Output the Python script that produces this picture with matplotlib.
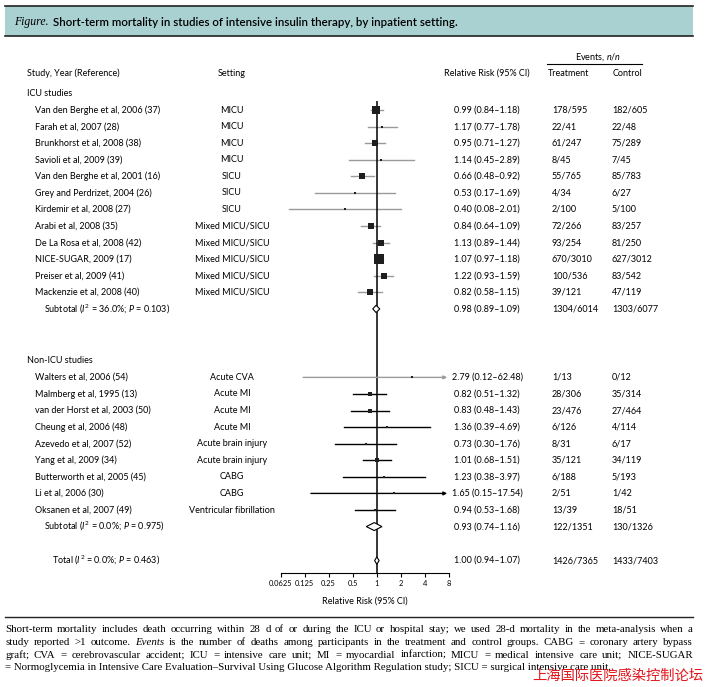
import numpy as np
import matplotlib
matplotlib.use('Agg')
import matplotlib.pyplot as plt
from matplotlib.transforms import blended_transform_factory
from matplotlib.patches import Rectangle
from matplotlib.lines import Line2D

plt.rcParams['font.family'] = ['Lato', 'DejaVu Sans']
plt.rcParams['mathtext.fontset'] = 'custom'
plt.rcParams['mathtext.rm'] = 'Lato'
plt.rcParams['mathtext.it'] = 'Lato:italic'

# =========================
# Datos
# =========================
icu_studies = ['Van den Berghe et al, 2006 (37)', 'Farah et al, 2007 (28)',
               'Brunkhorst et al, 2008 (38)', 'Savioli et al, 2009 (39)',
               'Van den Berghe et al, 2001 (16)', 'Grey and Perdrizet, 2004 (26)',
               'Kirdemir et al, 2008 (27)', 'Arabi et al, 2008 (35)',
               'De La Rosa et al, 2008 (42)', 'NICE-SUGAR, 2009 (17)',
               'Preiser et al, 2009 (41)', 'Mackenzie et al, 2008 (40)']
icu_settings = ['MICU', 'MICU', 'MICU', 'MICU', 'SICU', 'SICU', 'SICU',
                'Mixed MICU/SICU', 'Mixed MICU/SICU', 'Mixed MICU/SICU',
                'Mixed MICU/SICU', 'Mixed MICU/SICU']
icu_rr = [0.99, 1.17, 0.95, 1.14, 0.66, 0.53, 0.40, 0.84, 1.13, 1.07, 1.22, 0.82]
icu_lo = [0.84, 0.77, 0.71, 0.45, 0.48, 0.17, 0.08, 0.64, 0.89, 0.97, 0.93, 0.58]
icu_hi = [1.18, 1.78, 1.27, 2.89, 0.92, 1.69, 2.01, 1.09, 1.44, 1.18, 1.59, 1.15]
icu_treat = ['178/595', '22/41', '61/247', '8/45', '55/765', '4/34', '2/100',
             '72/266', '93/254', '670/3010', '100/536', '39/121']
icu_ctrl = ['182/605', '22/48', '75/289', '7/45', '85/783', '6/27', '5/100',
            '83/257', '81/250', '627/3012', '83/542', '47/119']
icu_weight = [15.5, 1.7, 6.9, 0.4, 9.4, 0.8, 0.2, 8.0, 6.9, 23.1, 9.4, 5.7]
icu_sub = [0.98, 0.89, 1.09]
icu_sub_events = ['1304/6014', '1303/6077']
icu_sub_stats = ['36.0%', '0.103']

non_studies = ['Walters et al, 2006 (54)', 'Malmberg et al, 1995 (13)',
               'van der Horst et al, 2003 (50)', 'Cheung et al, 2006 (48)',
               'Azevedo et al, 2007 (52)', 'Yang et al, 2009 (34)',
               'Butterworth et al, 2005 (45)', 'Li et al, 2006 (30)',
               'Oksanen et al, 2007 (49)']
non_settings = ['Acute CVA', 'Acute MI', 'Acute MI', 'Acute MI',
                'Acute brain injury', 'Acute brain injury', 'CABG', 'CABG',
                'Ventricular fibrillation']
non_rr = [2.79, 0.82, 0.83, 1.36, 0.73, 1.01, 1.23, 1.65, 0.94]
non_lo = [0.12, 0.51, 0.48, 0.39, 0.30, 0.68, 0.38, 0.15, 0.53]
non_hi = [62.48, 1.32, 1.43, 4.69, 1.76, 1.51, 3.97, 17.54, 1.68]
non_treat = ['1/13', '28/306', '23/476', '6/126', '8/31', '35/121', '6/188', '2/51', '13/39']
non_ctrl = ['0/12', '35/314', '27/464', '4/114', '6/17', '34/119', '5/193', '1/42', '18/51']
non_weight = [0.2, 2.3, 2.3, 0.4, 0.8, 3.9, 0.4, 0.2, 1.7]
non_sub = [0.93, 0.74, 1.16]
non_sub_events = ['122/1351', '130/1326']
non_sub_stats = ['0.0%', '0.975']

total = [1.00, 0.94, 1.07]
total_events = ['1426/7365', '1433/7403']
total_stats = ['0.0%', '0.463']

ticks = [0.0625, 0.125, 0.25, 0.5, 1, 2, 4, 8]
tick_labels = ['0.0625', '0.125', '0.25', '0.5', '1', '2', '4', '8']

title = 'Short-term mortality in studies of intensive insulin therapy, by inpatient setting.'
footnote = [
    'Short-term mortality includes death occurring within 28 d of or during the ICU or '
    'hospital stay; we used 28-d mortality in the meta-analysis when a',
    'study reported >1 outcome. Events is the number of deaths among participants in the '
    'treatment and control groups. CABG = coronary artery bypass',
    'graft; CVA = cerebrovascular accident; ICU = intensive care unit; MI = myocardial '
    'infarction; MICU = medical intensive care unit; NICE-SUGAR',
    '= Normoglycemia in Intensive Care Evaluation–Survival Using Glucose Algorithm '
    'Regulation study; SICU = surgical intensive care unit.',
]

# =========================
# Figura
# =========================
W, H = 706, 687
fig = plt.figure(figsize=(W / 100, H / 100), dpi=100)
renderer = fig.canvas.get_renderer()

def fx(px):
    return px / W

def fy(py):
    return 1 - py / H

FS = 6.5
FSF = 7.8
GRAY = '#9a9a9a'

ax = fig.add_axes([fx(280.5), fy(573), (449 - 280.5) / W, (573 - 101) / H])
ax.set_xscale('log', base=2)
ax.set_xlim(ticks[0], ticks[-1])
ax.set_ylim(28.93, 0.457)
for s in ['top', 'left', 'right']:
    ax.spines[s].set_visible(False)
ax.spines['bottom'].set_linewidth(0.8)
ax.set_yticks([])
ax.set_xticks(ticks)
ax.set_xticklabels(tick_labels)
ax.minorticks_off()
ax.tick_params(axis='x', length=3, width=0.8, labelsize=5.4, pad=2)
ax.set_xlabel('Relative Risk (95% CI)', fontsize=FS, labelpad=7)
ax.axvline(1, color='black', lw=1.1, zorder=2)

# posiciones de filas
icu_y = np.arange(1, len(icu_studies) + 1)
icu_sub_y = icu_y[-1] + 1
non_head_y = icu_sub_y + 3.13
non_y = non_head_y + np.arange(1, len(non_studies) + 1)
non_sub_y = non_y[-1] + 1
total_y = non_sub_y + 2.05

trans = blended_transform_factory(fig.transFigure, ax.transData)
xmax = ticks[-1]


def draw_study(y, name, setting, rr, lo, hi, tr, ct, w, color):
    if hi > xmax:
        ax.annotate('', xy=(xmax * 0.95, y), xytext=(lo, y),
                    arrowprops=dict(arrowstyle='-|>', color=color, lw=1,
                                    mutation_scale=5, shrinkA=0, shrinkB=0))
    else:
        ax.plot([lo, hi], [y, y], color=color, lw=1, zorder=1)
    ax.scatter([rr], [y], s=w * 2.7, marker='s', color='#1e1e1e', zorder=3, linewidths=0)
    ax.text(fx(35), y, name, transform=trans, fontsize=FS, va='center')
    ax.text(fx(232), y, setting, transform=trans, fontsize=FS, va='center', ha='center')
    ax.text(fx(487), y, f'{rr:.2f} ({lo:.2f}–{hi:.2f})', transform=trans,
            fontsize=FS, va='center', ha='center')
    ax.text(fx(552), y, tr, transform=trans, fontsize=FS, va='center')
    ax.text(fx(612), y, ct, transform=trans, fontsize=FS, va='center')


def draw_pooled(y, label, x0, vals, events, stats, h=0.24):
    est, lo, hi = vals
    ax.fill([lo, est, hi, est], [y, y - h, y, y + h], facecolor='white',
            edgecolor='black', lw=0.8, zorder=3)
    ax.text(fx(x0), y, f'{label} ($I^2$ = {stats[0]}; $P$ = {stats[1]})',
            transform=trans, fontsize=FS, va='center')
    ax.text(fx(487), y, f'{est:.2f} ({lo:.2f}–{hi:.2f})', transform=trans,
            fontsize=FS, va='center', ha='center')
    ax.text(fx(552), y, events[0], transform=trans, fontsize=FS, va='center')
    ax.text(fx(612), y, events[1], transform=trans, fontsize=FS, va='center')


ax.text(fx(27), 0, 'ICU studies', transform=trans, fontsize=FS, va='center')
for i in range(len(icu_studies)):
    draw_study(icu_y[i], icu_studies[i], icu_settings[i], icu_rr[i], icu_lo[i],
               icu_hi[i], icu_treat[i], icu_ctrl[i], icu_weight[i], GRAY)
draw_pooled(icu_sub_y, 'Subtotal', 44, icu_sub, icu_sub_events, icu_sub_stats, h=0.22)

ax.text(fx(27), non_head_y, 'Non-ICU studies', transform=trans, fontsize=FS, va='center')
for i in range(len(non_studies)):
    c = GRAY if i == 0 else 'black'
    draw_study(non_y[i], non_studies[i], non_settings[i], non_rr[i], non_lo[i],
               non_hi[i], non_treat[i], non_ctrl[i], non_weight[i], c)
draw_pooled(non_sub_y, 'Subtotal', 44, non_sub, non_sub_events, non_sub_stats)
draw_pooled(total_y, 'Total', 52, total, total_events, total_stats, h=0.22)

# encabezados
fig.text(fx(27), fy(73), 'Study, Year (Reference)', fontsize=FS, va='center')
fig.text(fx(232), fy(73), 'Setting', fontsize=FS, va='center', ha='center')
fig.text(fx(487), fy(73), 'Relative Risk (95% CI)', fontsize=FS, va='center', ha='center')
fig.text(fx(548), fy(73), 'Treatment', fontsize=FS, va='center')
fig.text(fx(613), fy(73), 'Control', fontsize=FS, va='center')
fig.text(fx(575), fy(57), 'Events, $\\mathit{n/n}$', fontsize=FS, va='center')
fig.add_artist(Line2D([fx(547), fx(642)], [fy(64), fy(64)], color='black', lw=0.8))

# barra de título
fig.add_artist(Rectangle((fx(5), fy(36)), (693 - 5) / W, 30 / H, transform=fig.transFigure,
                         facecolor='#a9d1d2', edgecolor='none', zorder=0))
fig.add_artist(Line2D([fx(5), fx(693)], [fy(6), fy(6)], color='#222222', lw=1.2))
fig.add_artist(Line2D([fx(5), fx(693)], [fy(36), fy(36)], color='#222222', lw=1.2))
t1 = fig.text(fx(14), fy(22), 'Figure.', family='Liberation Serif', style='italic',
              fontsize=8.5, va='center')
ax.annotate(title, xy=(1, 0.5), xycoords=t1, xytext=(3, 0), textcoords='offset points',
            va='center', ha='left', fontsize=8.3, fontweight='semibold',
            annotation_clip=False)

# nota al pie (justificada)
fig.add_artist(Line2D([fx(5), fx(693)], [fy(617), fy(617)], color='#222222', lw=1.0))


def foot_line(line, py, justify=True, italic=('Events',)):
    if not justify:
        fig.text(fx(5), fy(py), line, family='Liberation Serif', fontsize=FSF, va='baseline')
        return
    words = line.split(' ')
    texts = [fig.text(0, fy(py), w, family='Liberation Serif', fontsize=FSF, va='baseline',
                      style='italic' if w in italic else 'normal') for w in words]
    widths = [t.get_window_extent(renderer).width for t in texts]
    gap = ((693 - 5) - sum(widths)) / (len(words) - 1)
    x = 5
    for t, w in zip(texts, widths):
        t.set_x(fx(x))
        x += w + gap


foot_y = [632, 645, 657.5, 670]
for k, line in enumerate(footnote):
    foot_line(line, foot_y[k], justify=k < len(footnote) - 1)

fig.text(fx(703), fy(676), '上海国际医院感染控制论坛', family=['Noto Sans CJK SC'],
         color='#e3151b', fontsize=10.3, ha='right', va='center')

fig.savefig('out.png', dpi=100)
